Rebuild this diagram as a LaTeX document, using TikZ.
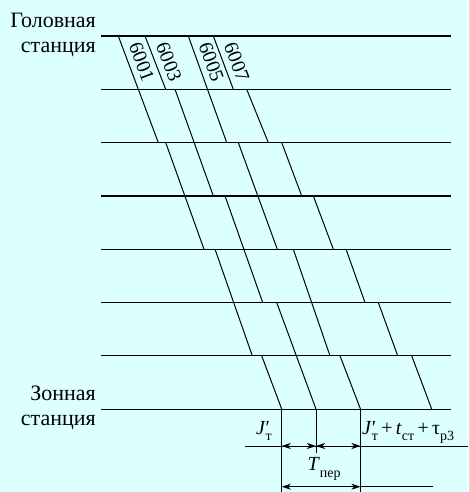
\documentclass[tikz,border=0pt]{standalone}
\usepackage{fontspec}
\setmainfont{Liberation Serif}
\usetikzlibrary{arrows.meta}
\definecolor{bgcyan}{RGB}{220,255,255}
\newcommand\lowsub[1]{\raisebox{-0.32em}{\fontsize{14}{14}\selectfont #1}}
\newcommand\primesub[1]{\rlap{′}\lowsub{#1}}
\begin{document}
\begin{tikzpicture}[x=1pt,y=-1pt,
  stationline/.style={line width=1.2pt},
  trainline/.style={line width=1pt},
  dimline/.style={line width=1pt},
  dimarrows/.style={dimline,{Stealth[length=9pt,width=6pt,inset=2.5pt]}-{Stealth[length=9pt,width=6pt,inset=2.5pt]}},
  stationname/.style={font=\fontsize{22}{25}\selectfont, inner sep=0pt, anchor=base east},
  trainnum/.style={font=\fontsize{20}{20}\selectfont, sloped, above, inner sep=6pt, pos=0.57},
  formula/.style={font=\fontsize{20}{20}\selectfont, inner sep=0pt}]

\fill[bgcyan] (0,0) rectangle (468,492);
\useasboundingbox (0,0) rectangle (468,492);

% station lines
\foreach \y in {36,89.3,142.6,195.9,249.2,302.5,355.8,409.1}
  \draw[stationline] (101,\y) -- (451,\y);

% station names
\node[stationname] (h1) at (96,27.3) {Головная};
\node[stationname] (h2) at (96,52.5) {станция};
\node[stationname] (z1) at (96,400.7) {Зонная};
\node[stationname] (z2) at (96,425.3) {станция};

% train 6001
\coordinate (a0) at (118.3,36);   \coordinate (a1) at (138.3,89.3);
\draw[trainline] (a0) -- (158.3,142.6);
\draw[trainline] (165.7,142.6) -- (204,249.2);
\draw[trainline] (215,249.2) -- (252.3,355.8);
\draw[trainline] (261.7,355.8) -- (281.7,409.1) coordinate (e1);
\path (a0) -- (a1) node[trainnum] {6001};

% train 6003
\coordinate (b0) at (145,36);   \coordinate (b1) at (165.7,89.3);
\draw[trainline] (b0) -- (b1);
\draw[trainline] (175,89.3) -- (213.3,195.9);
\draw[trainline] (225,195.9) -- (262.7,302.5);
\draw[trainline] (276.7,302.5) -- (316,409.1) coordinate (e2);
\path (b0) -- (b1) node[trainnum] {6003};

% train 6005
\coordinate (c0) at (188.3,36);   \coordinate (c1) at (207.5,89.3);
\draw[trainline] (c0) -- (226.7,142.6);
\draw[trainline] (238.3,142.6) -- (277.3,249.2);
\draw[trainline] (293.3,249.2) -- (330,355.8);
\draw[trainline] (340,355.8) -- (360.5,409.1) coordinate (e3);
\path (c0) -- (c1) node[trainnum] {6005};

% train 6007
\coordinate (d0) at (213.3,36);   \coordinate (d1) at (233.3,89.3);
\draw[trainline] (d0) -- (d1);
\draw[trainline] (246.7,89.3) -- (268.3,142.6);
\draw[trainline] (281.7,142.6) -- (301.7,195.9);
\draw[trainline] (313.3,195.9) -- (333.3,249.2);
\draw[trainline] (346,249.2) -- (365,302.5);
\draw[trainline] (378.3,302.5) -- (397.7,355.8);
\draw[trainline] (411.7,355.8) -- (431.7,409.1);
\path (d0) -- (d1) node[trainnum] {6007};

% dimension construction
\coordinate (m1) at (281.7,446);
\coordinate (m2) at (316,446);
\coordinate (m3) at (360.5,446);
\coordinate (mL) at (245,446);
\coordinate (mR) at (468,446);
\coordinate (n1) at (281.7,486.7);
\coordinate (n3) at (360.5,486.7);
\coordinate (nR) at (433.3,486.7);

\draw[dimline] (e1) -- (281.7,492);
\draw[dimline] (e2) -- (316,452.7);
\draw[dimline] (e3) -- (360.5,492);

\draw[dimline] (mL) -- (mR);
\draw[dimarrows] (m1) -- (m2);
\draw[dimarrows] (m2) -- (m3);
\draw[dimline] (n3) -- (nR);
\draw[dimarrows] (n1) -- (n3);

\node[formula, anchor=base east] (jt) at (272,434) {\textit{J}\primesub{т}};
\node[formula, anchor=base west] (jsum) at (362,434)
  {\textit{J}\primesub{т}\,+\,\textit{t}\lowsub{ст}\,+\,τ\lowsub{р3}};
\node[formula, anchor=base] (tper) at (324,470.7) {\textit{T}\lowsub{пер}};
\end{tikzpicture}
\end{document}
